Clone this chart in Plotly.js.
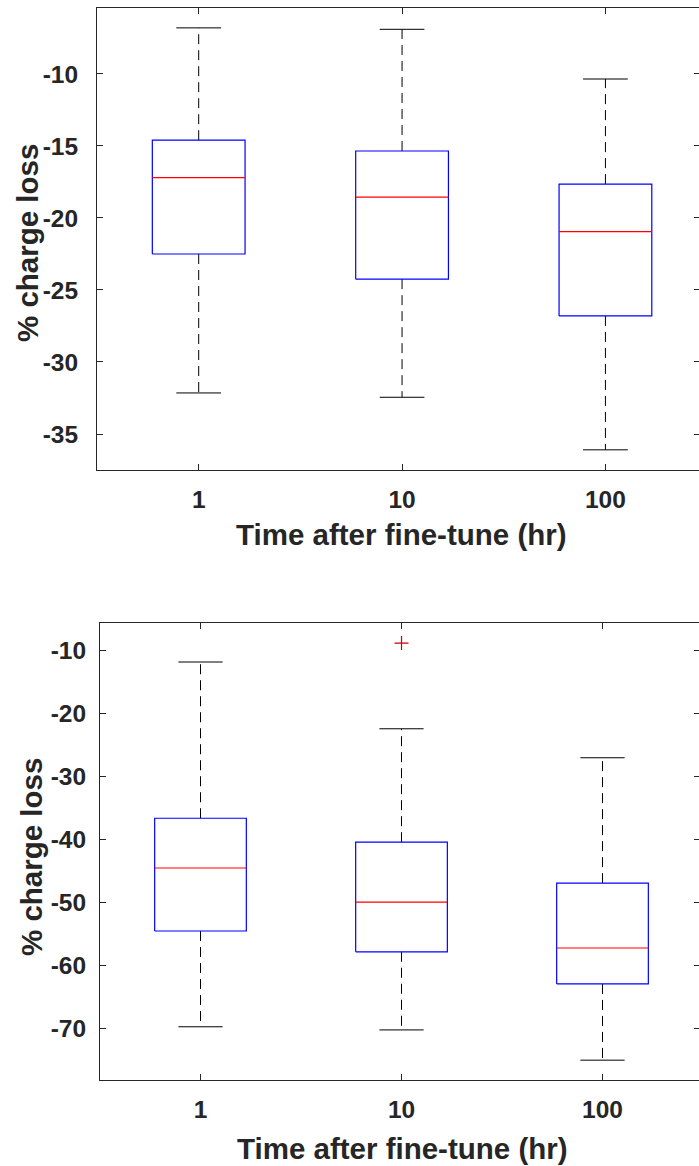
<!DOCTYPE html>
<html>
<head>
<meta charset="utf-8">
<script src="https://cdn.plot.ly/plotly-3.0.1.min.js"></script>
<style>
html, body { margin: 0; padding: 0; overflow: hidden; background: #ffffff; }
#chart { width: 703px; height: 1166px; }
</style>
</head>
<body>
<div id="chart"></div>
<script>
// ---- data ----
const categories = ["1", "10", "100"];
const xTitle = "Time after fine-tune (hr)";
const yTitle = "% charge loss";

// top panel
const topUpper  = [-6.8, -6.9, -10.35];
const topQ3     = [-14.6, -15.35, -17.65];
const topMedian = [-17.2, -18.55, -20.95];
const topQ1     = [-22.5, -24.25, -26.8];
const topLower  = [-32.15, -32.45, -36.1];
const topOutliers = [[], [], []];
const topTicks = [-35, -30, -25, -20, -15, -10];

// bottom panel
const botUpper  = [-11.9, -22.5, -27.1];
const botQ3     = [-36.7, -40.5, -47.0];
const botMedian = [-44.6, -50.0, -57.3];
const botQ1     = [-54.6, -57.9, -63.0];
const botLower  = [-69.8, -70.3, -75.1];
const botOutliers = [[], [-8.9], []];
const botTicks = [-70, -60, -50, -40, -30, -20, -10];

// ---- build MATLAB-style box plot traces ----
const HALF_BOX = 0.228;
const HALF_CAP = 0.11;

function panelTraces(up, q3, med, q1, lo, outl, xa, ya) {
  const bx = [], by = [], mx = [], my = [], wx = [], wy = [], cx = [], cy = [], ox = [], oy = [];
  categories.forEach((c, i) => {
    const p = i + 1;
    bx.push(p - HALF_BOX, p + HALF_BOX, p + HALF_BOX, p - HALF_BOX, p - HALF_BOX, null);
    by.push(q1[i], q1[i], q3[i], q3[i], q1[i], null);
    mx.push(p - HALF_BOX, p + HALF_BOX, null);
    my.push(med[i], med[i], null);
    wx.push(p, p, null, p, p, null);
    wy.push(q3[i], up[i], null, q1[i], lo[i], null);
    cx.push(p - HALF_CAP, p + HALF_CAP, null, p - HALF_CAP, p + HALF_CAP, null);
    cy.push(up[i], up[i], null, lo[i], lo[i], null);
    outl[i].forEach(v => { ox.push(p); oy.push(v); });
  });
  const common = { xaxis: xa, yaxis: ya, hoverinfo: "skip", showlegend: false };
  return [
    Object.assign({ type: "scatter", mode: "lines", x: wx, y: wy,
      line: { color: "#000000", width: 1, dash: "10px,6px" } }, common),
    Object.assign({ type: "scatter", mode: "lines", x: cx, y: cy,
      line: { color: "#000000", width: 1 } }, common),
    Object.assign({ type: "scatter", mode: "lines", x: bx, y: by,
      line: { color: "#0000ff", width: 1.2 } }, common),
    Object.assign({ type: "scatter", mode: "lines", x: mx, y: my,
      line: { color: "#ff0000", width: 1.2 } }, common),
    Object.assign({ type: "scatter", mode: "markers", x: ox, y: oy,
      marker: { symbol: "cross-thin-open", size: 10, color: "#cc0000", line: { color: "#cc0000", width: 1.2 } } }, common)
  ];
}

const traces = []
  .concat(panelTraces(topUpper, topQ3, topMedian, topQ1, topLower, topOutliers, "x", "y"))
  .concat(panelTraces(botUpper, botQ3, botMedian, botQ1, botLower, botOutliers, "x2", "y2"));

// ---- layout ----
const W = 703, H = 1166;
const axisColor = "#262626";
const tickFont = { family: "Liberation Sans, Arial, sans-serif", size: 24.5, color: axisColor, weight: "bold" };
const titleFont = { family: "Liberation Sans, Arial, sans-serif", size: 29.5, color: axisColor, weight: "bold" };

function xAxis(domainPx, range, anchor) {
  return {
    domain: [domainPx[0] / W, domainPx[1] / W],
    anchor: anchor,
    range: range,
    tickmode: "array",
    tickvals: categories.map((c, i) => i + 1),
    ticktext: categories,
    ticks: "inside", ticklen: 6, tickwidth: 1, tickcolor: axisColor,
    showline: true, linecolor: axisColor, linewidth: 1, mirror: "ticks",
    showgrid: false, zeroline: false,
    tickfont: tickFont,
    ticklabelstandoff: 8,
    fixedrange: true
  };
}
function yAxis(domainPx, range, ticks, anchor, standoff) {
  return {
    domain: [(H - domainPx[1]) / H, (H - domainPx[0]) / H],
    anchor: anchor,
    range: range,
    tickmode: "array",
    tickvals: ticks,
    ticktext: ticks.map(String),
    ticks: "inside", ticklen: 6, tickwidth: 1, tickcolor: axisColor,
    showline: true, linecolor: axisColor, linewidth: 1, mirror: "ticks",
    showgrid: false, zeroline: false,
    tickfont: tickFont,
    ticklabelstandoff: standoff,
    fixedrange: true
  };
}

const layout = {
  width: W, height: H,
  margin: { l: 0, r: 0, t: 0, b: 0, pad: 0 },
  paper_bgcolor: "#ffffff", plot_bgcolor: "#ffffff",
  showlegend: false,
  xaxis:  xAxis([97, 700], [0.5, 3.465], "y"),
  yaxis:  yAxis([8, 470], [-37.5, -5.42], topTicks, "x", 13),
  xaxis2: xAxis([100, 700], [0.5, 3.485], "y2"),
  yaxis2: yAxis([623, 1080], [-78.25, -5.71], botTicks, "x2", 8),
  annotations: [
    { text: xTitle, xref: "paper", yref: "paper", x: 401 / W, y: 1 - 534 / H,
      xanchor: "center", yanchor: "middle", showarrow: false, font: titleFont },
    { text: xTitle, xref: "paper", yref: "paper", x: 402 / W, y: 1 - 1148 / H,
      xanchor: "center", yanchor: "middle", showarrow: false, font: titleFont },
    { text: yTitle, xref: "paper", yref: "paper", x: 27 / W, y: 1 - 243 / H,
      xanchor: "center", yanchor: "middle", textangle: -90, showarrow: false, font: titleFont },
    { text: yTitle, xref: "paper", yref: "paper", x: 31 / W, y: 1 - 857 / H,
      xanchor: "center", yanchor: "middle", textangle: -90, showarrow: false, font: titleFont }
  ]
};

Plotly.newPlot("chart", traces, layout, { staticPlot: true, displayModeBar: false });
</script>
</body>
</html>
